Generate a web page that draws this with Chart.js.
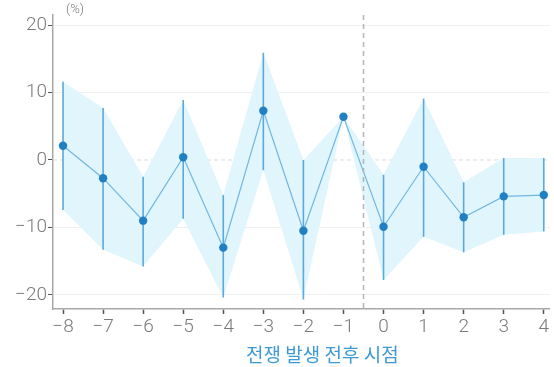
<!DOCTYPE html>
<html>
<head>
<meta charset="utf-8">
<script src="https://cdn.jsdelivr.net/npm/chart.js@4/dist/chart.umd.min.js"></script>
<style>
  html, body { margin: 0; padding: 0; background: #fff; }
  #wrap { width: 554px; height: 367px; position: relative; }
  #unit { position: absolute; left: 66px; top: 1px; font: 300 13px Roboto, sans-serif; color: #777; }
</style>
</head>
<body>
<div id="wrap"><canvas id="c" width="554" height="367"></canvas><div id="unit">(%)</div></div>
<script>
// Event time relative to the outbreak of war
const periods = [-8, -7, -6, -5, -4, -3, -2, -1, 0, 1, 2, 3, 4];
// Point estimates (%)
const estimates = [2.1, -2.7, -9.0, 0.4, -13.0, 7.3, -10.5, 6.4, -9.9, -1.0, -8.5, -5.4, -5.2];
// Confidence interval bounds (%)
const ciLow  = [-7.4, -13.3, -15.8, -8.7, -20.4, -1.5, -20.7, 6.4, -17.8, -11.4, -13.7, -11.1, -10.6];
const ciHigh = [11.6, 7.7, -2.5, 8.9, -5.2, 15.9, 0.0, 6.4, -2.2, 9.1, -3.3, 0.3, 0.3];
// Axis ticks
const yTicks = [-20, -10, 0, 10, 20];
const eventLine = -0.5;
const xTitle = '전쟁 발생 전후 시점';

const pts = (arr) => periods.map((p, i) => ({ x: p, y: arr[i] }));
const minus = (v) => String(v).replace('-', '\u2212');

const refLines = {
  id: 'refLines',
  beforeDatasetsDraw(chart) {
    const { ctx, chartArea, scales } = chart;
    const y0 = scales.y.getPixelForValue(0);
    ctx.save();
    ctx.strokeStyle = '#dcdcdc';
    ctx.lineWidth = 1;
    ctx.setLineDash([4, 3]);
    ctx.beginPath();
    ctx.moveTo(chartArea.left, y0);
    ctx.lineTo(chartArea.right, y0);
    ctx.stroke();
    ctx.restore();
  },
  beforeDatasetDraw(chart, args) {
    if (args.index !== 2) return;
    const { ctx, scales } = chart;
    ctx.save();
    ctx.strokeStyle = '#5aa9dc';
    ctx.lineWidth = 1.6;
    periods.forEach((p, i) => {
      if (ciHigh[i] - ciLow[i] < 0.5) return;
      const x = scales.x.getPixelForValue(p);
      ctx.beginPath();
      ctx.moveTo(x, scales.y.getPixelForValue(ciLow[i]));
      ctx.lineTo(x, scales.y.getPixelForValue(ciHigh[i]));
      ctx.stroke();
    });
    ctx.restore();
  },
  afterDatasetsDraw(chart) {
    const { ctx, chartArea, scales } = chart;
    const x = scales.x.getPixelForValue(eventLine);
    ctx.save();
    ctx.strokeStyle = '#b5b5b5';
    ctx.lineWidth = 1.5;
    ctx.setLineDash([5, 4]);
    ctx.beginPath();
    ctx.moveTo(x, chartArea.top);
    ctx.lineTo(x, chartArea.bottom);
    ctx.stroke();
    ctx.restore();
  },
  afterDraw(chart) {
    // x-axis title, set slightly right of the plot centre
    const { ctx, chartArea } = chart;
    ctx.save();
    ctx.fillStyle = '#3d9ad5';
    ctx.font = '19px "Noto Sans CJK KR"';
    ctx.textAlign = 'center';
    ctx.textBaseline = 'middle';
    ctx.fillText(xTitle, (chartArea.left + chartArea.right) / 2 + 21, chartArea.bottom + 46);
    ctx.restore();
  }
};

new Chart(document.getElementById('c'), {
  type: 'line',
  data: {
    datasets: [
      { data: pts(ciHigh), order: 2, fill: '+1', backgroundColor: '#e1f5fd', borderWidth: 0, pointRadius: 0, tension: 0 },
      { data: pts(ciLow), order: 3, fill: false, borderWidth: 0, pointRadius: 0, tension: 0 },
      { data: pts(estimates), order: 0, fill: false, borderColor: '#72b8e2', borderWidth: 1.2,
        pointRadius: 4.2, pointBackgroundColor: '#1f80c3', pointBorderWidth: 0, tension: 0 }
    ]
  },
  options: {
    responsive: false,
    animation: false,
    layout: { padding: { top: 15, right: 0, bottom: 0, left: 0 } },
    plugins: { legend: { display: false }, tooltip: { enabled: false } },
    scales: {
      x: {
        type: 'linear', min: -8.25, max: 4.15,
        afterBuildTicks: (axis) => { axis.ticks = periods.map(v => ({ value: v })); },
        afterFit: (s) => { s.height = 58; },
        grid: { drawOnChartArea: false, tickLength: 5, color: '#555', tickWidth: 1.5 },
        border: { color: '#a8a8a8', width: 1.5 },
        ticks: { padding: 2, color: '#7a7a7a', font: { family: 'Roboto', weight: 300, size: 19 }, callback: minus }
      },
      y: {
        min: -22.1, max: 21.5,
        afterBuildTicks: (axis) => { axis.ticks = yTicks.map(v => ({ value: v })); },
        afterFit: (s) => { s.width = 53; },
        grid: { color: (c) => c.tick && c.tick.value === 0 ? 'rgba(0,0,0,0)' : '#f0f0f0', tickColor: '#555', tickLength: 5, lineWidth: 1 },
        border: { color: '#a8a8a8', width: 1.5 },
        ticks: { padding: 1, color: '#7a7a7a', font: { family: 'Roboto', weight: 300, size: 19 }, callback: minus }
      }
    }
  },
  plugins: [refLines]
});
</script>
</body>
</html>
